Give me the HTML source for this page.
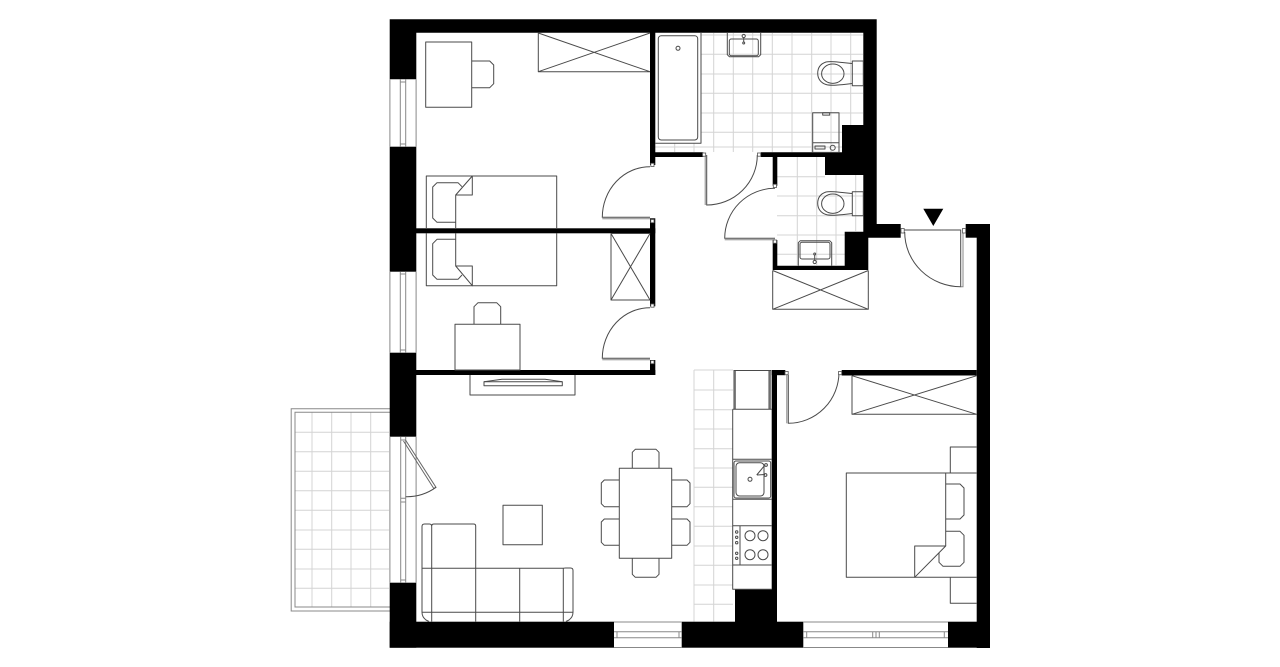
<!DOCTYPE html>
<html><head><meta charset="utf-8"><title>Floor plan</title>
<style>html,body{margin:0;padding:0;background:#fff}svg{display:block}</style></head>
<body>
<svg width="1280" height="667" viewBox="0 0 1280 667" xmlns="http://www.w3.org/2000/svg">
<rect width="1280" height="667" fill="#fff"/>
<!-- tiles -->
<g stroke="#d4d4d4" stroke-width="1" fill="none">
<path d="M674.7 143V152M694 143V152M713.7 33V152M733.3 33V152M752.7 33V152M772.3 33V152M792 33V152M811.7 33V152M831 33V152M850.7 33V125"/>
<path d="M701 35H863M701 54.3H863M701 74H863M701 93.3H863M701 113H863M701 132.3H842M655 147H842"/>
<path d="M797.3 157V265M816.7 157V265M836 175V265M855.7 175V231"/>
<path d="M777 176.7H825M777 196H863M777 215.7H863M777 235H863M777 254.3H845"/>
<path d="M694 370V621.5M713.7 370V621.5M694 370H733M694 390H733M694 409.7H733M694 429H733M694 448.7H733M694 468H733M694 487.3H733M694 506.7H733M694 526.3H733M694 546H733M694 565.3H733M694 585H733M694 604.3H733"/>
<path d="M312 412V607M331.7 412V607M351 412V607M370.7 412V607M295 432.3H389M295 451.7H389M295 471.3H389M295 490.7H389M295 510.3H389M295 530H389M295 549.3H389M295 569H389M295 588.3H389"/>
</g>
<!-- balcony -->
<g fill="none" stroke="#888" stroke-width="1">
<path d="M390 408.7H291.2V611H390"/>
<path d="M390 412.3H295V607H390"/>
</g>
<!-- walls -->
<g fill="#000">
<path d="M389.7 19.3H876.7V224H900.7V237.7H868.3V270H772.7V240H777.3V265.7H844.7V231.7H863.3V175H825V157H777.3V185.7H772.7V157H760.7V152.3H842V125H863.3V32.7H655.3V152.3H703.3V157H655.3V165H650V32.7H416.3V79.3H389.7Z"/>
<rect x="389.7" y="146.7" width="26.6" height="125"/>
<rect x="416" y="228.3" width="239.3" height="5"/>
<rect x="650" y="218.3" width="5.3" height="88"/>
<rect x="389.7" y="352.7" width="26.6" height="84"/>
<rect x="416" y="370" width="239.3" height="5"/>
<rect x="650" y="360" width="5.3" height="15"/>
<rect x="389.7" y="582.7" width="26.6" height="65"/>
<rect x="389.7" y="621.7" width="224.3" height="26"/>
<rect x="681.7" y="621.7" width="121.6" height="26"/>
<rect x="948" y="621.7" width="42" height="26"/>
<rect x="735" y="589.3" width="42" height="33"/>
<rect x="771.7" y="370" width="5.3" height="252"/>
<rect x="771.7" y="370" width="13.6" height="5.2"/>
<rect x="841.7" y="370" width="135" height="5.5"/>
<rect x="976.7" y="224" width="13.3" height="424"/>
<rect x="965.7" y="224" width="24.3" height="13.7"/>
<path d="M923.3 208.7H943.3L933.3 226Z"/>
</g>
<!-- windows -->
<g fill="none" stroke="#888" stroke-width="1">
<path d="M389.9 79.3V146.7M416.1 79.3V146.7M400.3 79.3V146.7M405.7 79.3V146.7M400.3 82H405.7M400.3 144H405.7"/>
<path d="M389.9 271.7V352.7M416.1 271.7V352.7M400.3 271.7V352.7M405.7 271.7V352.7M400.3 274H405.7M400.3 350H405.7"/>
<path d="M389.9 436.7V582.7M416.1 436.7V582.7M400.7 436.7V582.7M405.7 436.7V582.7M400.7 440H405.7M400.7 498.3H405.7M400.7 502H405.7M400.7 580H405.7"/>
<path d="M614 622H681.7M614 647.5H681.7M614 631.7H681.7M614 637.7H681.7M617 631.7V637.7M679 631.7V637.7"/>
<path d="M803.3 622H948M803.3 647.5H948M803.3 631.7H948M803.3 637.7H948M806.7 631.7V637.7M872.7 631.7V637.7M876 631.7V637.7M879.3 631.7V637.7M944.3 631.7V637.7"/>
</g>
<!-- furniture -->
<g fill="none" stroke="#4a4a4a" stroke-width="1" stroke-linejoin="round">
<!-- room 1 -->
<rect x="425.7" y="42" width="46" height="65.3"/>
<path d="M471.7 61H489.7L493.7 65V83.7L489.7 87.7H471.7"/>
<path d="M538.3 33V71.7H650M538.3 33L650 71.7M538.3 71.7L650 33"/>
<path d="M426.3 228V176H556.7V228"/>
<path d="M455.7 228V195L472.3 176V195H455.7"/>
<path d="M455.7 222.3H437L432.7 218V187L437 182.7H458L462 186.7"/>
<!-- room 2 -->
<path d="M426.3 233V285.7H556.7V233"/>
<path d="M455.7 233V266L472.3 285.7V266H455.7"/>
<path d="M455.7 239.3H437L432.7 243.7V275L437 279.3H458L462 275"/>
<rect x="455" y="324.3" width="65" height="45.7"/>
<path d="M474 324.3V306.7L478 302.7H496.7L500.7 306.7V324.3"/>
<path d="M611 233.5V300H650M611 233.5H650M611 233.5L650 300M611 300L650 233.5"/>
<!-- TV -->
<path d="M470 375V395H575V375"/>
<path d="M484 381.7L502 379.3H545L562.3 381.7V385.7H484Z"/>
<path d="M484 381.7H562.3"/>
<!-- living -->
<rect x="503" y="505.3" width="39.3" height="39.4"/>
<path d="M431.7 621.5V526.5Q431.7 524 429.5 524H424.5Q422 524 422 526.5V612.3Q422 617 426 620L429 621.5"/>
<path d="M431.7 526Q431.7 524 434 524H473.5Q475.7 524 475.7 526V621.5"/>
<path d="M422 568.3H563.3M475.7 568.3H519.7V621.5M519.7 568.3Q563.3 568.3 563.3 568.3V621.5M563.3 568.3Q563.3 568 565.5 568H570.5Q573 568 573 570.5V612.3Q573 617 569 620L566 621.5"/>
<path d="M422 612.3H573"/>
<!-- dining -->
<rect x="619.3" y="468.3" width="52.4" height="90"/>
<path d="M632.3 468.3V452.3L635.3 449.3H656L659 452.3V468.3"/>
<path d="M632.3 558.3V574.3L635.3 577.3H656L659 574.3V558.3"/>
<path d="M619.3 480H604.3L601.3 483V503.7L604.3 506.7H619.3"/>
<path d="M619.3 519H604.3L601.3 522V542.3L604.3 545.3H619.3"/>
<path d="M671.7 480H687L690 483V503.7L687 506.7H671.7"/>
<path d="M671.7 519H687L690 522V542.3L687 545.3H671.7"/>
<!-- kitchen -->
<path d="M732.7 409.3V589.3H771.7M732.7 409.3H771.7"/>
<path d="M734 370V409M735.2 370V409M769 370V409M770.2 370V409M734 370.5H771"/>
<path d="M732.7 459.3H771.7M732.7 499.3H771.7"/>
<rect x="734" y="461" width="36.7" height="37" rx="2"/>
<rect x="736" y="462.7" width="28" height="33.3" rx="3.5"/>
<circle cx="750" cy="479.3" r="2"/>
<path d="M756.7 475L765 465M757 475L765 474.5"/>
<circle cx="766" cy="465" r="1.4"/>
<circle cx="765.5" cy="475" r="1.4"/>
<path d="M732.7 525.7H771.7M732.7 565H771.7M740 525.7V565"/>
<circle cx="750" cy="535.7" r="5"/><circle cx="763" cy="535.7" r="5"/>
<circle cx="750" cy="554.7" r="5"/><circle cx="763" cy="554.7" r="5"/>
<circle cx="736.7" cy="532" r="1.2"/><circle cx="736.7" cy="537.3" r="1.2"/><circle cx="736.7" cy="542.7" r="1.2"/><circle cx="736.7" cy="553.3" r="1.2"/><circle cx="736.7" cy="558.3" r="1.2"/>
<!-- bathroom -->
<path d="M655.3 143.3H701V33"/>
<rect x="658.3" y="35.7" width="39.4" height="104.3" rx="3"/>
<circle cx="678" cy="48.3" r="2"/>
<path d="M727.3 33V54.7L729.3 56.7H758.7L760.7 54.7V33"/>
<rect x="729.3" y="39" width="29" height="16.7" rx="2"/>
<circle cx="743.7" cy="36" r="1.6"/><circle cx="743.7" cy="43" r="1"/><path d="M743.7 37.6V42"/>
<rect x="852.3" y="61" width="11" height="24.7"/>
<path d="M852.3 63.5C838 62 830 61 826 62C820 64 817.7 68 817.7 73.3C817.7 79 821 83 826 84.5C831 86 840 85 852.3 83.5"/>
<ellipse cx="832.8" cy="73.7" rx="11.2" ry="9.7"/>
<rect x="812.7" y="112.7" width="26.3" height="39.7"/>
<path d="M812.7 142.7H839"/>
<rect x="822.7" y="112.7" width="7" height="2.4"/>
<rect x="815" y="146" width="10" height="3"/>
<circle cx="832.7" cy="147.7" r="2.5"/>
<!-- WC -->
<rect x="852.3" y="191.7" width="11" height="24"/>
<path d="M852.3 193.5C838 192 830 191 826 192C820 194 817.7 198 817.7 203.3C817.7 209 821 213 826 214.5C831 216 840 215 852.3 213.5"/>
<ellipse cx="832.8" cy="203.7" rx="11.2" ry="9.7"/>
<path d="M798.3 265.7V242.7L800.3 240.7H829.7L831.7 242.7V265.7"/>
<rect x="800" y="242.3" width="30" height="16.7" rx="2"/>
<circle cx="814.7" cy="262" r="1.6"/><circle cx="814.7" cy="254" r="1"/><path d="M814.7 255V260.4"/>
<!-- closets -->
<path d="M772.7 270.5V309.3H868.3V270.5M772.7 270.5L868.3 309.3M772.7 309.3L868.3 270.5"/>
<path d="M852 375.7V414.3H976.7M852 375.7L976.7 414.3M852 414.3L976.7 375.7"/>
<!-- bedroom -->
<path d="M945.7 473H846.3V577.3H976.7M945.7 473H976.7M945.7 473V546"/>
<path d="M950.3 473V447H976.7M950.3 577.3V603.3H976.7"/>
<path d="M945.7 484H960L964 488V515L960 519H945.7"/>
<path d="M945.7 531.3H960L964 535.3V562.3L960 566.3H943L939 562.3V553"/>
<path d="M945.7 546H914.7V577.3Z" fill="#fff"/>
</g>
<!-- doors -->
<g fill="none" stroke="#4a4a4a" stroke-width="1">
<path d="M650 166.7A47.7 50.6 0 0 0 602.3 217.3H650"/>
<path d="M650 307.7A47.7 50.6 0 0 0 602.3 358.3H650"/>
<path d="M602.3 218.8H650M602.3 359.8H650" stroke="#888"/>
<path d="M706.7 155V205A50.6 50 0 0 0 757.3 155"/>
<path d="M705.2 155V205" stroke="#888"/>
<path d="M775 188.3A50.3 50 0 0 0 724.7 238.3H775"/>
<path d="M724.7 239.8H775" stroke="#888"/>
<path d="M904.7 232A56 54.7 0 0 0 960.7 286.7V230H904"/>
<path d="M963 231V286.7H960.7" stroke="#888"/>
<path d="M788.3 375V423.3A50.7 51.3 0 0 0 839 372"/>
<path d="M786.8 375V423.3" stroke="#888"/>
<path d="M405.5 440L436 487.3L433.8 488.5L403.5 441" stroke="#666"/>
<path d="M436 487.3A50 50 0 0 1 405.7 496.7" />
</g>
<!-- jambs -->
<g fill="#fff" stroke="#555" stroke-width="0.8">
<rect x="650.8" y="163.3" width="3.2" height="3.2"/><rect x="650.8" y="219.5" width="3.2" height="3.2"/>
<rect x="650.8" y="304" width="3.2" height="3.2"/><rect x="650.8" y="360.5" width="3.2" height="3.2"/>
<rect x="702.5" y="153" width="3.2" height="3.2"/><rect x="757.5" y="153" width="3.2" height="3.2"/>
<rect x="773.3" y="184.3" width="3.2" height="3.2"/><rect x="773.3" y="240" width="3.2" height="3.2"/>
<rect x="901" y="228.5" width="3.2" height="4.5"/><rect x="962.5" y="228.5" width="3.2" height="4.5"/>
<rect x="785" y="371.5" width="3.2" height="3.2"/><rect x="838.5" y="371.5" width="3.2" height="3.2"/>
</g>
</svg>
</body></html>
